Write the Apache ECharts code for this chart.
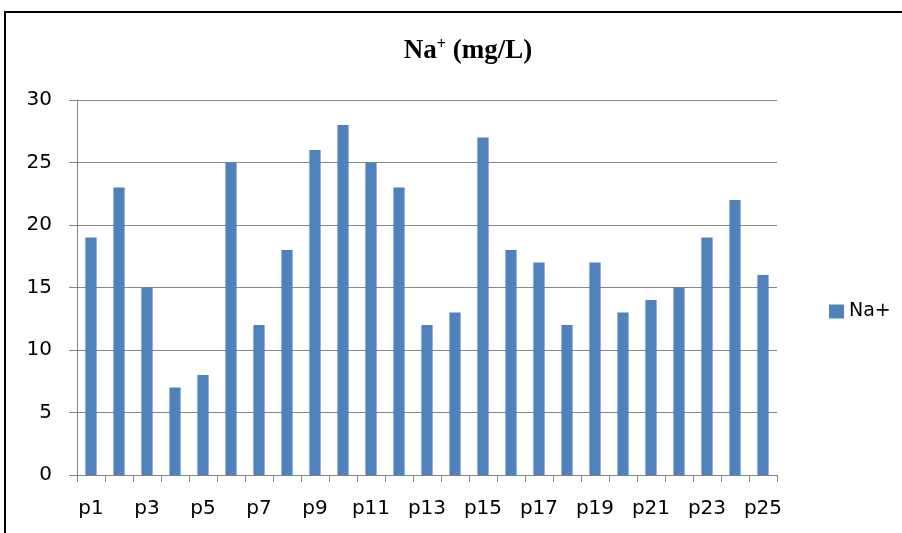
<!DOCTYPE html>
<html>
<head>
    <meta charset="utf-8">
    <title>Na+</title>
    <script type="text/javascript" src="https://cdn.jsdelivr.net/npm/echarts@6/dist/echarts.min.js"></script>
</head>
<body style="margin:0;">
    <div id="main" style="width:902px;height:533px;"></div>
    <script type="text/javascript">
        var categories = ['p1','p2','p3','p4','p5','p6','p7','p8','p9','p10','p11','p12','p13',
                          'p14','p15','p16','p17','p18','p19','p20','p21','p22','p23','p24','p25'];
        var naValues = [19, 23, 15, 7, 8, 25, 12, 18, 26, 28, 25, 23, 12,
                        13, 27, 18, 17, 12, 17, 13, 14, 15, 19, 22, 16];
        var yTicks = { min: 0, max: 30, interval: 5 };

        var labelFont = '"DejaVu Sans", sans-serif';
        var chart = echarts.init(document.getElementById('main'));

        chart.setOption({
            animation: false,
            graphic: [{
                type: 'rect',
                shape: { x: 5, y: 12, width: 1000, height: 600 },
                style: { fill: 'none', stroke: '#000', lineWidth: 2 },
                silent: true
            }],
            title: {
                text: '{b|Na}{s|+}{b| (mg/L)}',
                left: 463,
                top: 32,
                textAlign: 'center',
                textStyle: {
                    rich: {
                        b: { fontFamily: '"Liberation Serif", serif', fontWeight: 'bold', fontSize: 27, color: '#000' },
                        s: { fontFamily: '"Liberation Serif", serif', fontWeight: 'bold', fontSize: 16, color: '#000', verticalAlign: 'top', padding: [0, 0, 12, 0] }
                    }
                }
            },
            legend: {
                left: 824,
                top: 297,
                itemWidth: 15,
                itemHeight: 14,
                itemGap: 8,
                icon: 'rect',
                textStyle: { fontFamily: labelFont, fontSize: 19, color: '#000' },
                data: ['Na+']
            },
            grid: { left: 77, right: 125, top: 100, bottom: 58 },
            xAxis: {
                type: 'category',
                data: categories,
                axisLine: { lineStyle: { color: '#868686', width: 1 } },
                axisTick: { show: true, interval: 0, length: 7, lineStyle: { color: '#868686' } },
                axisLabel: { interval: 1, margin: 24, fontFamily: labelFont, fontSize: 20, color: '#000' }
            },
            yAxis: {
                type: 'value',
                min: yTicks.min,
                max: yTicks.max,
                interval: yTicks.interval,
                axisLine: { show: true, lineStyle: { color: '#868686', width: 1 } },
                axisTick: { show: true, length: 8, lineStyle: { color: '#868686' } },
                axisLabel: { margin: 25, fontFamily: labelFont, fontSize: 20, color: '#000' },
                splitLine: { lineStyle: { color: '#868686', width: 1 } }
            },
            series: [{
                name: 'Na+',
                type: 'bar',
                data: naValues,
                barWidth: '40%',
                itemStyle: { color: '#4f81bd' }
            }]
        });
    </script>
</body>
</html>
